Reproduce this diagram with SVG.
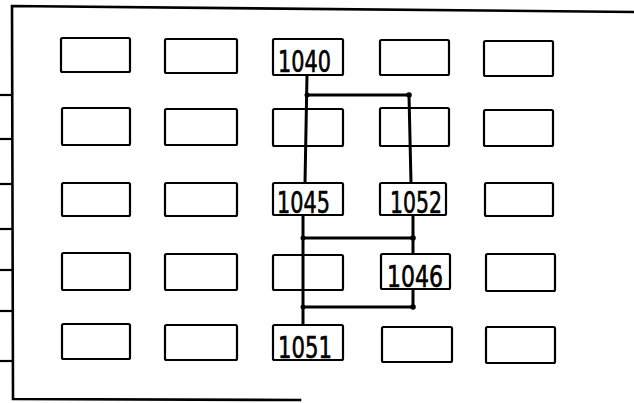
<svg xmlns="http://www.w3.org/2000/svg" width="634" height="403" viewBox="0 0 634 403">
<style>
.box{fill:none;stroke:#000;stroke-width:2.2}
.frame{fill:none;stroke:#000;stroke-width:2.6;stroke-linecap:square}
.tick{stroke:#000;stroke-width:2.2}
.wire{fill:none;stroke:#000;stroke-width:3;stroke-linejoin:round}
.dot{fill:#000}
.lbl{font-family:"Liberation Sans Narrow","DejaVu Sans Condensed","Liberation Sans",sans-serif;font-size:30px;fill:#000;stroke:#000;stroke-width:0.6}
</style>
<rect width="634" height="403" fill="#fff"/>
<g id="frame">
<path class="frame" d="M634,12 L12,6 L13,399 L300,400"/>
<line class="tick" x1="0" y1="95" x2="13" y2="95"/>
<line class="tick" x1="0" y1="139" x2="13" y2="139"/>
<line class="tick" x1="0" y1="184" x2="13" y2="184"/>
<line class="tick" x1="0" y1="229" x2="13" y2="229"/>
<line class="tick" x1="0" y1="270" x2="13" y2="270"/>
<line class="tick" x1="0" y1="311" x2="13" y2="311"/>
<line class="tick" x1="0" y1="361" x2="13" y2="361"/>
</g>
<g id="r1c1"><rect class="box" x="61" y="38" width="69" height="34" rx="1.5"/></g>
<g id="r1c2"><rect class="box" x="165" y="39" width="72" height="34" rx="1.5"/></g>
<g id="n1040"><rect class="box" x="273" y="39" width="70" height="36" rx="1.5"/><text class="lbl" x="278" y="72" textLength="53" lengthAdjust="spacingAndGlyphs">1040</text></g>
<g id="r1c4"><rect class="box" x="380" y="40" width="69" height="35" rx="1.5"/></g>
<g id="r1c5"><rect class="box" x="484" y="41" width="69" height="35" rx="1.5"/></g>
<g id="r2c1"><rect class="box" x="62" y="108" width="68" height="37" rx="1.5"/></g>
<g id="r2c2"><rect class="box" x="165" y="109" width="72" height="36" rx="1.5"/></g>
<g id="r2c3"><rect class="box" x="273" y="109" width="70" height="37" rx="1.5"/></g>
<g id="r2c4"><rect class="box" x="380" y="108" width="69" height="38" rx="1.5"/></g>
<g id="r2c5"><rect class="box" x="484" y="110" width="69" height="36" rx="1.5"/></g>
<g id="r3c1"><rect class="box" x="62" y="183" width="68" height="33" rx="1.5"/></g>
<g id="r3c2"><rect class="box" x="165" y="183" width="72" height="33" rx="1.5"/></g>
<g id="n1045"><rect class="box" x="273" y="183" width="70" height="32" rx="1.5"/><text class="lbl" x="277" y="213" textLength="53" lengthAdjust="spacingAndGlyphs">1045</text></g>
<g id="n1052"><rect class="box" x="380" y="183" width="66" height="32" rx="1.5"/><text class="lbl" x="390" y="213" textLength="52" lengthAdjust="spacingAndGlyphs">1052</text></g>
<g id="r3c5"><rect class="box" x="485" y="183" width="68" height="33" rx="1.5"/></g>
<g id="r4c1"><rect class="box" x="62" y="253" width="68" height="37" rx="1.5"/></g>
<g id="r4c2"><rect class="box" x="165" y="254" width="72" height="36" rx="1.5"/></g>
<g id="r4c3"><rect class="box" x="273" y="255" width="70" height="35" rx="1.5"/></g>
<g id="n1046"><rect class="box" x="381" y="254" width="69" height="35" rx="1.5"/><text class="lbl" x="387" y="287" textLength="56" lengthAdjust="spacingAndGlyphs">1046</text></g>
<g id="r4c5"><rect class="box" x="486" y="254" width="69" height="37" rx="1.5"/></g>
<g id="r5c1"><rect class="box" x="62" y="324" width="68" height="35" rx="1.5"/></g>
<g id="r5c2"><rect class="box" x="165" y="325" width="72" height="35" rx="1.5"/></g>
<g id="n1051"><rect class="box" x="273" y="325" width="70" height="35" rx="1.5"/><text class="lbl" x="278" y="358" textLength="54" lengthAdjust="spacingAndGlyphs">1051</text></g>
<g id="r5c4"><rect class="box" x="382" y="327" width="70" height="35" rx="1.5"/></g>
<g id="r5c5"><rect class="box" x="486" y="327" width="69" height="36" rx="1.5"/></g>
<g id="connectors">
<path class="wire" d="M307,75 L305,183"/>
<path class="wire" d="M307,95 L409,95 L411,183"/>
<path class="wire" d="M303,215 L303,325"/>
<path class="wire" d="M303,238 L413,238"/>
<path class="wire" d="M413,215 L413,254"/>
<path class="wire" d="M303,307 L413,307 L413,289"/>
<circle class="dot" cx="307" cy="95" r="2.5"/>
<circle class="dot" cx="409" cy="95" r="2.8"/>
<circle class="dot" cx="303" cy="238" r="2.5"/>
<circle class="dot" cx="413" cy="238" r="2.8"/>
<circle class="dot" cx="303" cy="307" r="2.5"/>
<circle class="dot" cx="413" cy="307" r="2.8"/>
</g>
</svg>
